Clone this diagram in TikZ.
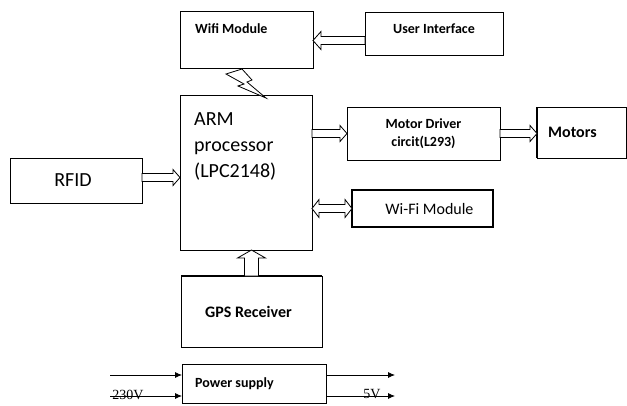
\documentclass[tikz,border=0pt]{standalone}
\usepackage{fontspec}
\setmainfont{Carlito}
\newfontfamily\serifnum{Liberation Serif}
\usetikzlibrary{calc,arrows.meta}
\newcommand\fsz[2]{\fontsize{#1}{#2}\selectfont}
% hollow arrows
\newcommand\harrowR[2]{\draw[harr] let \p1=(#1), \p2=(#2) in
  (\x1,\y1+4pt) -- (\x2-7pt,\y1+4pt) -- (\x2-7pt,\y1+8pt) -- (\x2,\y1) --
  (\x2-7pt,\y1-8pt) -- (\x2-7pt,\y1-4pt) -- (\x1,\y1-4pt) -- cycle;}
\newcommand\harrowL[2]{\draw[harr] let \p1=(#1), \p2=(#2) in
  (\x1,\y1+4pt) -- (\x2+8pt,\y1+4pt) -- (\x2+8pt,\y1+9pt) -- (\x2,\y1) --
  (\x2+8pt,\y1-9pt) -- (\x2+8pt,\y1-4pt) -- (\x1,\y1-4pt) -- cycle;}
\newcommand\harrowU[2]{\draw[harr] let \p1=(#1), \p2=(#2) in
  (\x1-7pt,\y1) -- (\x1-7pt,\y2-8pt) -- (\x1-14pt,\y2-8pt) -- (\x1,\y2) --
  (\x1+14pt,\y2-8pt) -- (\x1+7pt,\y2-8pt) -- (\x1+7pt,\y1) -- cycle;}
\newcommand\harrowD[2]{\draw[harr] let \p1=(#1), \p2=(#2) in
  (\x1,\y1) -- (\x1+7pt,\y1+9pt) -- (\x1+7pt,\y1+4pt) -- (\x2-7pt,\y1+4pt) --
  (\x2-7pt,\y1+9pt) -- (\x2,\y1) -- (\x2-7pt,\y1-9pt) -- (\x2-7pt,\y1-4pt) --
  (\x1+7pt,\y1-4pt) -- (\x1+7pt,\y1-9pt) -- cycle;}
\begin{document}
\begin{tikzpicture}[x=1pt,y=-1pt,
  box/.style={draw, line width=0.9pt, anchor=north west, inner sep=0pt, outer sep=0pt},
  harr/.style={draw, line width=0.8pt, fill=white, line join=miter},
  blab/.style={font=\bfseries\fsz{14}{16}, inner sep=0pt},
  plab/.style={font=\fsz{16}{18}, inner sep=0pt},
  pline/.style={line width=0.8pt, -{Latex[length=7pt,width=6pt]}}]
\useasboundingbox (0,0) rectangle (627,405);
% boxes
\node[box, minimum width=133pt, minimum height=57pt,
  label={[blab, anchor=base west, xshift=15pt, yshift=-22pt]north west:Wifi Module}] (wifi) at (180,11) {};
\node[box, minimum width=138pt, minimum height=43pt,
  label={[blab, anchor=base, yshift=-21pt]north:User Interface}] (ui) at (365,12) {};
\node[box, minimum width=132pt, minimum height=155pt,
  label={[font=\fsz{20}{26}, inner sep=0pt, align=left, anchor=north west, xshift=14pt, yshift=-17pt]north west:ARM\\processor\\(LPC2148)}] (arm) at (180,95) {};
\node[box, minimum width=132pt, minimum height=45pt,
  label={[font=\fsz{20}{24}, inner sep=0pt, xshift=-3pt]center:RFID}] (rfid) at (10,158) {};
\node[box, minimum width=153pt, minimum height=53pt,
  label={[blab, align=center, font=\bfseries\fsz{14}{18}]center:Motor Driver\\circit(L293)}] (md) at (347,107) {};
\node[box, minimum width=89pt, minimum height=51pt,
  label={[blab, font=\bfseries\fsz{16}{18}, anchor=west, xshift=11pt]west:Motors}] (motors) at (537,107) {};
\draw[line width=2pt] (motors.north west) -- (motors.south west);
\node[box, line width=1.8pt, minimum width=141pt, minimum height=37pt,
  label={[plab, xshift=7pt]center:Wi-Fi Module}] (wifi2) at (352,190) {};
\node[box, minimum width=141pt, minimum height=71pt,
  label={[blab, font=\bfseries\fsz{16}{18}, xshift=-3pt]center:GPS Receiver}] (gps) at (181,276) {};
\draw[line width=1.6pt] (gps.north west) -- (gps.north east);
\node[box, minimum width=144pt, minimum height=39pt,
  label={[blab, anchor=base west, xshift=13pt, yshift=-23pt]north west:Power supply}] (ps) at (182,364) {};
% hollow arrows
\harrowL{$(ui.west)+(0,7)$}{wifi.east}
\harrowR{$(rfid.east)+(0,-3)$}{arm.west}
\path (arm.east |- md.west) coordinate (a1);
\harrowR{a1}{md.west}
\harrowR{md.east}{motors.west}
\path (arm.east |- wifi2.west) coordinate (a2);
\harrowD{a2}{wifi2.west}
\harrowU{gps.north}{arm.south}
% lightning
\draw[harr] (226,74) -- (242,69) -- (252,80) -- (247,82) -- (266,98) -- (238,86) -- (244,84) -- cycle;
% power lines
\coordinate (in1) at (110,375);
\coordinate (in2) at (110,396);
\coordinate (out1) at (395,375);
\coordinate (out2) at (395,396);
\draw[pline] (in1) -- (ps.west |- in1);
\draw[pline] (in2) -- (ps.west |- in2);
\draw[pline] (ps.east |- out1) -- (out1);
\draw[pline] (ps.east |- out2) -- (out2);
\node[font=\serifnum\fsz{14}{16}, inner sep=0pt, anchor=base] (v230) at (128,399) {230V};
\node[font=\serifnum\fsz{14}{16}, inner sep=0pt, anchor=base] (v5) at (372,398) {5V};
\end{tikzpicture}
\end{document}
